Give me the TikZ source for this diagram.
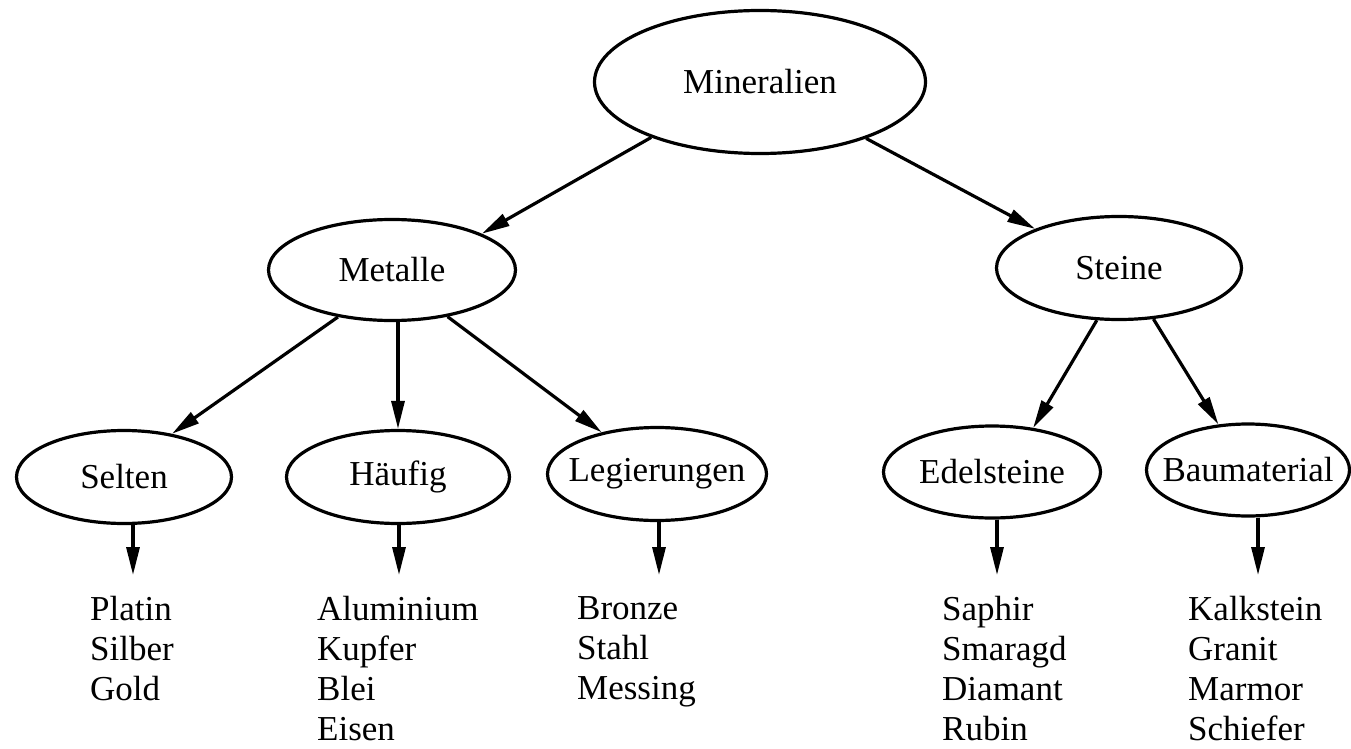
\documentclass[tikz,border=0pt]{standalone}
\usepackage{fontspec}
\setmainfont{Liberation Serif}
\usetikzlibrary{shapes.geometric,arrows.meta,calc}

% zero-width centred label, so the ellipse size is set by the options only
\newcommand{\zw}[1]{\makebox[0pt]{#1}}

\begin{document}
\begin{tikzpicture}[x=1pt,y=-1pt,
  every node/.style={font=\fontsize{35}{40}\selectfont},
  oval/.style={ellipse,draw,line width=3.2pt,inner sep=0pt},
  itemlist/.style={anchor=north west,inner sep=0pt,align=left},
  arr/.style={line width=3.2pt,-{Triangle[length=28pt,width=13pt]}},
  leaf/.style={arr,shorten >=21pt}]
\useasboundingbox (0,0) rectangle (1351,749);

% top level
\node[oval,minimum width=331pt,minimum height=143pt] (min) at (760,82) {\zw{Mineralien}};

% second level
\node[oval,minimum width=247pt,minimum height=101pt] (met) at (392,270) {\zw{Metalle}};
\node[oval,minimum width=245pt,minimum height=103pt] (ste) at (1119,268) {\zw{Steine}};

% third level
\node[oval,minimum width=215pt,minimum height=93pt] (sel) at (124,477) {\zw{Selten}};
\node[oval,minimum width=223pt,minimum height=93pt] (hae) at (398,477) {\zw{Häufig}};
\node[oval,minimum width=219pt,minimum height=93pt] (leg) at (657,474) {\zw{Legierungen}};
\node[oval,minimum width=217pt,minimum height=92pt] (ede) at (992,472) {\zw{Edelsteine}};
\node[oval,minimum width=203pt,minimum height=92pt] (bau) at (1248,470) {\zw{Baumaterial}};

% word lists
\node[itemlist] (lsel) at (90,596) {Platin\\Silber\\Gold};
\node[itemlist] (lhae) at (317,596) {Aluminium\\Kupfer\\Blei\\Eisen};
\node[itemlist] (lleg) at (577,596) {Bronze\\Stahl\\Messing};
\node[itemlist] (lede) at (942,596) {Saphir\\Smaragd\\Diamant\\Rubin};
\node[itemlist] (lbau) at (1188,596) {Kalkstein\\Granit\\Marmor\\Schiefer};

% tree edges
\draw[arr] (min.207.4) -- (met.22.6);
\draw[arr] (min.332.4) -- (ste.155.8);
\draw[arr] (met.221.3) -- (sel.42);
\draw[arr] (hae.north |- met.south) -- (hae.north);
\draw[arr] (met.320.7) -- (leg.143.7);
\draw[arr] (ste.247) -- (ede.47.7);
\draw[arr] (ste.304.7) -- (bau.123.7);

% edges down to the word lists
\draw[leaf] ([xshift=9pt]sel.south) -- ([xshift=9pt]sel.south |- lsel.north);
\draw[leaf] ([xshift=1pt]hae.south) -- ([xshift=1pt]hae.south |- lhae.north);
\draw[leaf] ([xshift=2pt]leg.south) -- ([xshift=2pt]leg.south |- lleg.north);
\draw[leaf] ([xshift=5pt]ede.south) -- ([xshift=5pt]ede.south |- lede.north);
\draw[leaf] ([xshift=10pt]bau.south) -- ([xshift=10pt]bau.south |- lbau.north);
\end{tikzpicture}
\end{document}
